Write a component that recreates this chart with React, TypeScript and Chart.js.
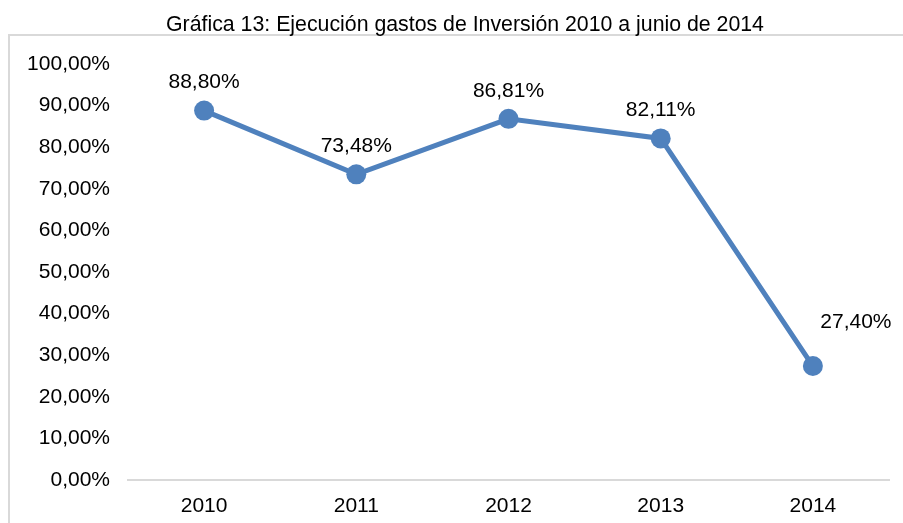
import React, { useEffect, useRef } from "react";
import { Chart, registerables } from "chart.js";

Chart.register(...registerables);

const TITLE = "Gráfica 13: Ejecución gastos de Inversión 2010 a junio de 2014";
const categories = ["2010", "2011", "2012", "2013", "2014"];
const values = [88.8, 73.48, 86.81, 82.11, 27.4];
const yMin = 0;
const yMax = 100;
const yStep = 10;

const FONT = "'Liberation Sans', Arial, sans-serif";
const BLUE = "#4f81bd";

const fmt = (v: number) => v.toFixed(2).replace(".", ",") + "%";

const framePlugin = {
  id: "frame",
  beforeDraw(chart: any) {
    const ctx = chart.ctx;
    ctx.save();
    ctx.strokeStyle = "#d9d9d9";
    ctx.lineWidth = 2;
    ctx.beginPath();
    ctx.moveTo(9, chart.height);
    ctx.lineTo(9, 35);
    ctx.lineTo(chart.width, 35);
    ctx.stroke();
    ctx.fillStyle = "#000";
    ctx.font = `21.3px ${FONT}`;
    ctx.textAlign = "center";
    ctx.textBaseline = "alphabetic";
    ctx.fillText(TITLE, 465, 31);
    ctx.restore();
  },
};

const labelPlugin = {
  id: "pointLabels",
  afterDatasetsDraw(chart: any) {
    const ctx = chart.ctx;
    const meta = chart.getDatasetMeta(0);
    const data = chart.data.datasets[0].data as number[];
    ctx.save();
    ctx.fillStyle = "#000";
    ctx.font = `21px ${FONT}`;
    ctx.textAlign = "center";
    ctx.textBaseline = "middle";
    meta.data.forEach((pt: any, i: number) => {
      const last = i === data.length - 1;
      const dx = last ? 43 : 0;
      const dy = last ? -44 : -28;
      ctx.fillText(fmt(data[i]), pt.x + dx, pt.y + dy);
    });
    ctx.restore();
  },
};

export default function App() {
  const ref = useRef<HTMLCanvasElement>(null);
  useEffect(() => {
    if (!ref.current) return;
    const chart = new Chart(ref.current, {
      type: "line",
      data: {
        labels: categories,
        datasets: [
          {
            data: values,
            borderColor: BLUE,
            backgroundColor: BLUE,
            borderWidth: 5,
            pointRadius: 10,
            pointHoverRadius: 10,
            pointBackgroundColor: BLUE,
            pointBorderColor: BLUE,
            pointBorderWidth: 0,
            tension: 0,
          },
        ],
      },
      options: {
        responsive: false,
        animation: false,
        layout: { padding: { top: 64, right: 14, left: 0, bottom: 0 } },
        plugins: {
          legend: { display: false },
          title: { display: false },
          tooltip: { enabled: false },
        },
        scales: {
          x: {
            offset: true,
            grid: { display: false, drawTicks: false },
            border: { display: true, color: "#d9d9d9", width: 2 },
            ticks: { color: "#000", font: { family: FONT, size: 21 }, padding: 14 },
            afterFit: (s: any) => {
              s.height = 43;
            },
          },
          y: {
            min: yMin,
            max: yMax,
            grid: { display: false, drawTicks: false },
            border: { display: false },
            ticks: {
              stepSize: yStep,
              color: "#000",
              font: { family: FONT, size: 21 },
              padding: 18,
              callback: (v: any) => fmt(Number(v)),
            },
            afterFit: (s: any) => {
              s.width = 128;
            },
          },
        },
      },
      plugins: [framePlugin, labelPlugin],
    });
    return () => chart.destroy();
  }, []);
  return (
    <div style={{ position: "fixed", left: 0, top: 0, width: 903, height: 523, background: "#fff" }}>
      <canvas ref={ref} width={903} height={523} style={{ display: "block" }} />
    </div>
  );
}
